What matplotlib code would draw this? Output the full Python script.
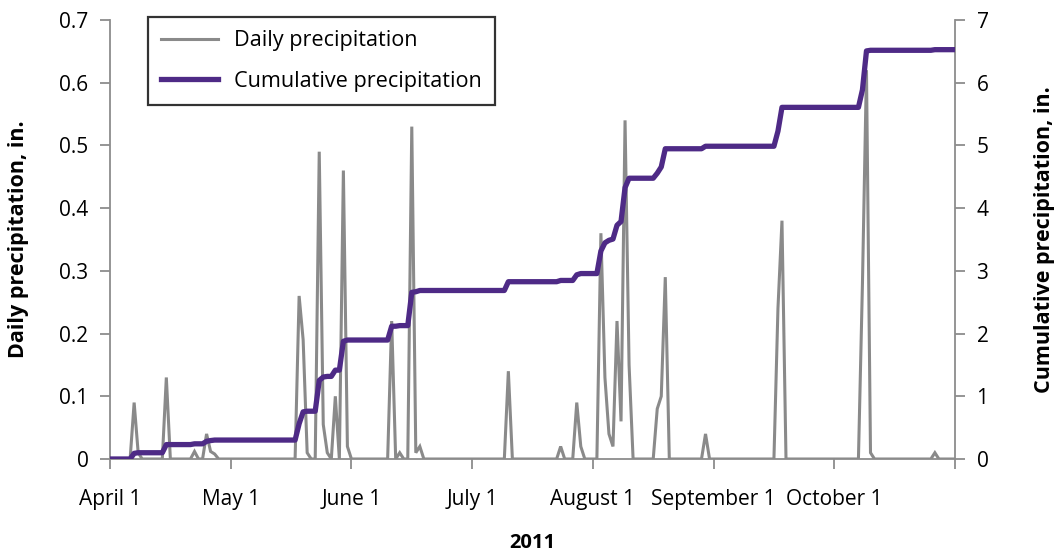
import numpy as np
import matplotlib
matplotlib.use("Agg")
import matplotlib.pyplot as plt

plt.rcParams['font.family'] = ['Open Sans', 'DejaVu Sans']

# ---- data ----
n_days = 211  # April 1 .. October 28 (day index 0..210)
rain_days = [6, 7, 14, 21, 24, 25, 26,
             47, 48, 49, 52, 53, 54, 56, 58, 59,
             70, 72, 75, 76, 77,
             99, 112, 116, 117,
             122, 123, 124, 125, 126, 127, 128, 129,
             136, 137, 138, 148,
             166, 167, 187, 188, 189, 205]
rain_amounts = [0.09, 0.01, 0.13, 0.012, 0.04, 0.012, 0.008,
                0.26, 0.19, 0.01, 0.49, 0.055, 0.01, 0.10, 0.46, 0.02,
                0.22, 0.01, 0.53, 0.01, 0.02,
                0.14, 0.02, 0.09, 0.02,
                0.36, 0.13, 0.04, 0.02, 0.22, 0.06, 0.54, 0.15,
                0.08, 0.10, 0.29, 0.04,
                0.24, 0.38, 0.28, 0.62, 0.01, 0.01]
tick_days = [0, 30, 60, 90, 120, 150, 180, 210]
tick_labels = ["April 1", "May 1", "June 1", "July 1", "August 1",
               "September 1", "October 1", ""]

days = np.arange(n_days)
daily = np.zeros(n_days)
daily[rain_days] = rain_amounts
cumulative = np.cumsum(daily)

# ---- figure ----
W, H = 1063, 559
fig = plt.figure(figsize=(W / 100, H / 100), dpi=100)
ax = fig.add_axes([110 / W, 1 - 459 / H, 845 / W, 439 / H])
ax2 = ax.twinx()

gray = "#8a8a8a"
purple = "#4e2a86"
spine_c = "#8c8c8c"

l1, = ax.plot(days, daily, color=gray, lw=2.2, label="Daily precipitation",
              solid_joinstyle="miter", zorder=2)
l2, = ax2.plot(days, cumulative, color=purple, lw=3.8,
               label="Cumulative precipitation", zorder=3)

ax.set_xlim(0, 210)
ax.set_ylim(0, 0.7)
ax2.set_ylim(0, 7)
ax.set_yticks(np.arange(0, 0.71, 0.1))
ax.set_yticklabels(["0"] + [f"{v:.1f}" for v in np.arange(0.1, 0.71, 0.1)])
ax2.set_yticks(range(0, 8))
ax.set_xticks(tick_days)
ax.set_xticklabels(tick_labels)

for a in (ax, ax2):
    a.spines['top'].set_visible(False)
    for s in ('left', 'right', 'bottom'):
        a.spines[s].set_color(spine_c)
        a.spines[s].set_linewidth(1.3)
    a.tick_params(colors=spine_c, labelcolor="black", length=7.5, width=1.3,
                  labelsize=15, direction='out')
ax.tick_params(axis='y', pad=8)
ax2.tick_params(axis='y', pad=8)
ax.tick_params(axis='x', pad=14)
ax.spines['right'].set_visible(False)
ax2.spines['left'].set_visible(False)
ax2.spines['bottom'].set_visible(False)

ax.set_ylabel("Daily precipitation, in.", fontsize=15.5, fontweight='bold',
              labelpad=22)
ax2.set_ylabel("Cumulative precipitation, in.", fontsize=15.5,
               fontweight='bold', rotation=90, labelpad=33)
ax.set_xlabel("2011", fontsize=14.5, fontweight='bold', labelpad=17)

ax2.set_zorder(ax.get_zorder() + 1)
ax2.patch.set_visible(False)

leg = fig.legend(handles=[l1, l2], loc='upper left',
                 bbox_to_anchor=(148 / W, 1 - 17 / H), borderaxespad=0,
                 fontsize=15.6, frameon=True, fancybox=False,
                 handlelength=2.6, handletextpad=0.75, borderpad=0.62,
                 labelspacing=0.9)
leg.get_frame().set_edgecolor("black")
leg.get_frame().set_linewidth(1.6)

fig.savefig("out.png", dpi=100)
